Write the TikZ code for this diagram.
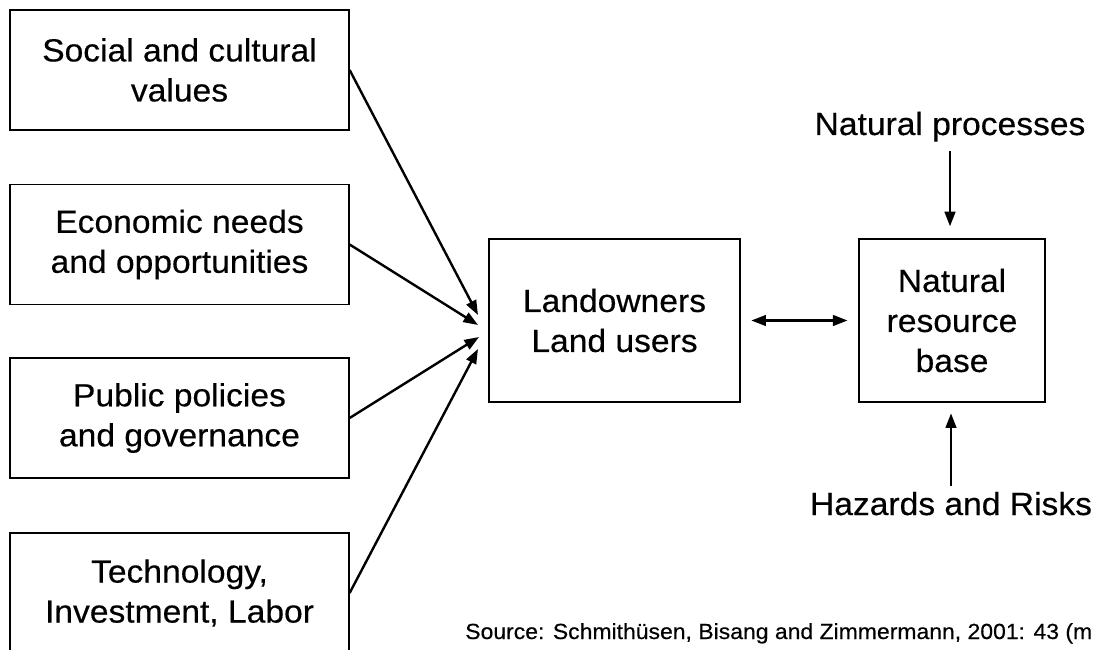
\documentclass[tikz,border=0pt]{standalone}
\usepackage{fontspec}
\setmainfont[FakeStretch=1.05,FakeBold=0.4]{Liberation Sans}
\usepackage{tikz}
\usetikzlibrary{positioning}
\usetikzlibrary{arrows.meta}

\begin{document}
\begin{tikzpicture}[x=0.75pt, y=-0.75pt,
	squarednode/.style={rectangle, draw=black, line width=1.2pt, fill=white, inner sep=0pt, align=center, font=\fontsize{24pt}{30pt}\selectfont},
	labelnode/.style={inner sep=0pt, font=\fontsize{24pt}{30pt}\selectfont},
	arrowline/.style={line width=1.8pt, -{Triangle[length=11pt,width=8pt]}},
	]
	\path[use as bounding box, clip] (0,0) rectangle (1098,649);
	%Nodes
	\node[squarednode, minimum width=254pt, minimum height=90pt] (social) 	at (179.5,70) 	{Social and cultural\\values};
	\node[squarednode, minimum width=254pt, minimum height=90pt] (economic) at (179.5,244.5) {Economic needs\\and opportunities};
	\node[squarednode, minimum width=254pt, minimum height=90pt] (public) 	at (179.5,418) 	{Public policies\\and governance};
	\node[squarednode, minimum width=254pt, minimum height=90pt] (techno) 	at (179.5,593) 	{Technology,\\Investment, Labor};
	\node[squarednode, minimum width=188pt, minimum height=122pt] (landuser) at (614.5,320.5) {Landowners\\Land users};
	\node[squarednode, minimum width=139.5pt, minimum height=122pt] (resource) at (952,320.5) {Natural\\resource\\base};
	\node[labelnode, anchor=base] (natproc) at (950,135) {Natural processes};
	\node[labelnode, anchor=base] (hazards) at (951,515) {Hazards and Risks};
	\node[anchor=base west, inner sep=0pt, font=\fontsize{16.4pt}{18pt}\selectfont] (source) at (465,639) {Source: Schmithüsen, Bisang and Zimmermann, 2001: 43 (m};
	
	\coordinate (in1) at (478,315);
	\coordinate (in2) at (478,325);
	\coordinate (in3) at (479,337);
	\coordinate (in4) at (478,349);
	
	%Arrows
	\draw[arrowline] (social.east) -- (in1);
	\draw[arrowline] (economic.east) -- (in2);
	\draw[arrowline] (public.east) -- (in3);
	\draw[arrowline] (techno.east) -- (in4);
	\draw[line width=1.8pt, {Triangle[length=11pt,width=8pt]}-{Triangle[length=11pt,width=8pt]}, shorten <=8pt, shorten >=8pt] (landuser) -- (resource);
	\draw[arrowline, shorten <=7pt, shorten >=9pt] (natproc.south) -- (natproc.south |- resource.north);
	\draw[arrowline, shorten <=4pt, shorten >=8pt] (hazards.north) -- (hazards.north |- resource.south);
\end{tikzpicture}
\end{document}
